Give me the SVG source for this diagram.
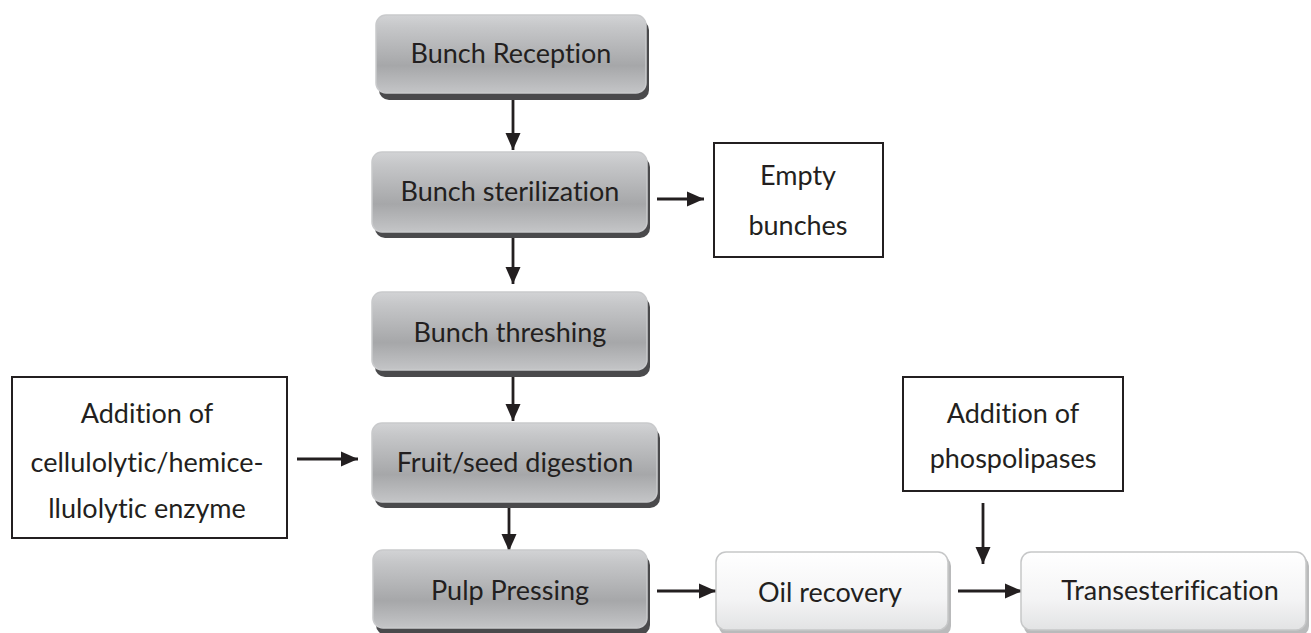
<svg xmlns="http://www.w3.org/2000/svg" width="1311" height="633" viewBox="0 0 1311 633">
<defs>
<linearGradient id="gGray" x1="0" y1="0" x2="0" y2="1">
<stop offset="0" stop-color="#d2d3d5"/>
<stop offset="0.15" stop-color="#c6c7c9"/>
<stop offset="0.65" stop-color="#a6a7a9"/>
<stop offset="1" stop-color="#c4c5c7"/>
</linearGradient>
<linearGradient id="gWhite" x1="0" y1="0" x2="0" y2="1">
<stop offset="0" stop-color="#ffffff"/>
<stop offset="0.6" stop-color="#f4f4f5"/>
<stop offset="1" stop-color="#e2e3e4"/>
</linearGradient>
<marker id="ah" markerWidth="17" markerHeight="16" viewBox="0 0 17 16" refX="17" refY="8" orient="auto" markerUnits="userSpaceOnUse">
<path d="M0,0.5 L17,8 L0,15.5 Z" fill="#231f20"/>
</marker>
</defs>
<style>
text{font-family:Lato,"Open Sans","Liberation Sans",sans-serif;font-size:27px;fill:#231f20;text-anchor:middle;font-variant-ligatures:none;font-feature-settings:"liga" 0}
.shadow{fill:#4a4a4c}
.gray{fill:url(#gGray);stroke:#c9cacc;stroke-width:1.5}
.wshadow{fill:#b9babb}
.white{fill:url(#gWhite);stroke:#c6c7c8;stroke-width:1.5}
.rect{fill:#ffffff;stroke:#231f20;stroke-width:2}
.conn{stroke:#231f20;stroke-width:2.8;fill:none;marker-end:url(#ah)}
</style>
<rect width="1311" height="633" fill="#ffffff"/>
<g id="connectors">
<line class="conn" x1="513" y1="100" x2="513" y2="150"/>
<line class="conn" x1="513" y1="238" x2="513" y2="284"/>
<line class="conn" x1="513" y1="377" x2="513" y2="421"/>
<line class="conn" x1="509" y1="507" x2="509" y2="551"/>
<line class="conn" x1="657" y1="199" x2="704" y2="199"/>
<line class="conn" x1="297" y1="459" x2="358" y2="459"/>
<line class="conn" x1="657" y1="591" x2="716" y2="591"/>
<line class="conn" x1="958" y1="591" x2="1022" y2="591"/>
<line class="conn" x1="983" y1="503" x2="983" y2="564"/>
</g>
<g id="bunch-reception">
<rect class="shadow" x="379" y="20" width="270" height="80" rx="10"/>
<rect class="gray" x="376" y="15" width="270" height="78" rx="10"/>
<text x="511" y="63">Bunch Reception</text>
</g>
<g id="bunch-sterilization">
<rect class="shadow" x="375" y="157" width="275" height="81" rx="10"/>
<rect class="gray" x="372" y="152" width="275" height="80" rx="10"/>
<text x="510" y="201">Bunch sterilization</text>
</g>
<g id="empty-bunches">
<rect class="rect" x="714" y="143" width="169" height="114"/>
<text x="798" y="185">Empty</text>
<text x="798" y="235">bunches</text>
</g>
<g id="bunch-threshing">
<rect class="shadow" x="375" y="297" width="275" height="80" rx="10"/>
<rect class="gray" x="372" y="292" width="275" height="78" rx="10"/>
<text x="510" y="342">Bunch threshing</text>
</g>
<g id="enzyme-addition">
<rect class="rect" x="12" y="377" width="275" height="161"/>
<text x="147" y="423">Addition of</text>
<text x="147" y="472">cellulolytic/hemice-</text>
<text x="147" y="518">llulolytic enzyme</text>
</g>
<g id="fruit-digestion">
<rect class="shadow" x="375" y="428" width="285" height="80" rx="10"/>
<rect class="gray" x="372" y="423" width="285" height="79" rx="10"/>
<text x="515" y="472">Fruit/seed digestion</text>
</g>
<g id="phospholipases">
<rect class="rect" x="903" y="377" width="220" height="114"/>
<text x="1013" y="423">Addition of</text>
<text x="1013" y="468">phospolipases</text>
</g>
<g id="pulp-pressing">
<rect class="shadow" x="376" y="555" width="274" height="80" rx="10"/>
<rect class="gray" x="373" y="550" width="274" height="78" rx="10"/>
<text x="510" y="600">Pulp Pressing</text>
</g>
<g id="oil-recovery">
<rect class="wshadow" x="719" y="556" width="232" height="80" rx="10"/>
<rect class="white" x="716" y="552" width="232" height="78" rx="10"/>
<text x="830" y="602">Oil recovery</text>
</g>
<g id="transesterification">
<rect class="wshadow" x="1024" y="556" width="285" height="80" rx="10"/>
<rect class="white" x="1021" y="552" width="285" height="78" rx="10"/>
<text x="1170" y="600">Transesterification</text>
</g>
</svg>
